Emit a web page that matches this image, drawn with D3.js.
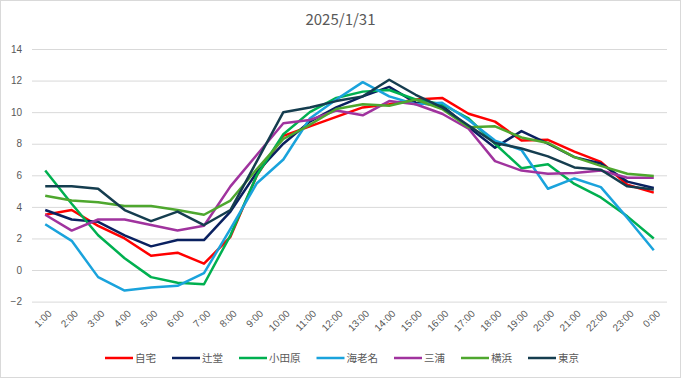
<!DOCTYPE html>
<html>
<head>
<meta charset="utf-8">
<script src="https://cdn.jsdelivr.net/npm/d3@7"></script>
<style>
  body { margin: 0; background: #fff; }
  svg { display: block; font-family: "Noto Sans CJK JP", "Noto Sans", sans-serif; }
</style>
</head>
<body>
<svg width="681" height="378"></svg>
<script>
// hours on the x axis
var hours = ['1:00','2:00','3:00','4:00','5:00','6:00','7:00','8:00','9:00','10:00','11:00','12:00',
  '13:00','14:00','15:00','16:00','17:00','18:00','19:00','20:00','21:00','22:00','23:00','0:00'];

var yTicks = [-2, 0, 2, 4, 6, 8, 10, 12, 14];

// temperatures
var jitaku   = [3.5, 3.8, 2.8, 2.0, 0.9, 1.1, 0.4, 2.1, 6.0, 8.5, 9.1, 9.7, 10.3, 10.5, 10.8, 10.9, 9.9, 9.4, 8.2, 8.25, 7.5, 6.85, 5.4, 4.9];
var tsujido  = [3.8, 3.2, 3.05, 2.2, 1.5, 1.9, 1.9, 3.7, 6.2, 8.0, 9.4, 10.3, 11.0, 11.6, 10.6, 10.4, 9.05, 7.75, 8.8, 8.0, 7.15, 6.75, 5.6, 5.2];
var odawara  = [6.3, 4.2, 2.2, 0.75, -0.45, -0.8, -0.9, 2.2, 6.0, 8.6, 10.0, 10.9, 11.3, 11.4, 10.8, 10.5, 9.6, 8.0, 6.45, 6.7, 5.45, 4.6, 3.4, 2.0];
var ebina    = [2.9, 1.85, -0.45, -1.3, -1.1, -1.0, -0.2, 2.6, 5.5, 7.0, 9.6, 10.8, 11.9, 11.0, 10.5, 10.6, 9.5, 8.2, 7.6, 5.15, 5.8, 5.25, 3.3, 1.25];
var miura    = [3.5, 2.5, 3.2, 3.2, 2.85, 2.5, 2.8, 5.3, 7.3, 9.3, 9.5, 10.1, 9.8, 10.7, 10.5, 9.9, 8.95, 6.9, 6.3, 6.1, 6.15, 6.3, 5.85, 5.85];
var yokohama = [4.7, 4.4, 4.3, 4.05, 4.05, 3.8, 3.5, 4.4, 6.4, 8.3, 9.2, 10.2, 10.5, 10.4, 10.8, 10.2, 9.05, 9.1, 8.4, 8.05, 7.15, 6.6, 6.1, 5.95];
var tokyo    = [5.3, 5.3, 5.15, 3.8, 3.1, 3.7, 2.85, 3.8, 6.9, 10.0, 10.3, 10.7, 11.0, 12.05, 11.1, 10.3, 9.15, 8.05, 7.7, 7.2, 6.5, 6.35, 5.3, 5.1];

var series = [
  {name: '自宅', values: jitaku, color: '#ff0000'},
  {name: '辻堂', values: tsujido, color: '#0a2160'},
  {name: '小田原', values: odawara, color: '#00b050'},
  {name: '海老名', values: ebina, color: '#1aa3dc'},
  {name: '三浦', values: miura, color: '#a0339e'},
  {name: '横浜', values: yokohama, color: '#4ea72e'},
  {name: '東京', values: tokyo, color: '#153d4f'}
];

var svg = d3.select('svg');
var textColor = '#595959';

// chart border
svg.append('rect')
    .attr('x', 0.5).attr('y', 0.5)
    .attr('width', 680).attr('height', 377)
    .attr('fill', '#fff')
    .attr('stroke', '#d9d9d9');

var plotLeft = 32, plotRight = 667, plotTop = 49, plotBottom = 301.6;

var xScale = d3.scalePoint()
    .domain(hours)
    .range([plotLeft, plotRight])
    .padding(0.5);

var yScale = d3.scaleLinear()
    .domain([-2, 14])
    .range([plotBottom, plotTop]);

// gridlines + y labels
var yAxis = d3.axisLeft(yScale)
    .tickValues(yTicks)
    .tickSize(-(plotRight - plotLeft))
    .tickPadding(10)
    .tickFormat(d3.format('d'));

var gy = svg.append('g')
    .attr('class', 'y axis')
    .attr('transform', 'translate(' + plotLeft + ',0)')
    .call(yAxis);
gy.select('.domain').remove();
gy.selectAll('line').attr('stroke', '#d9d9d9');
gy.selectAll('text')
    .attr('fill', textColor)
    .attr('font-size', 10);

// x labels
var xAxis = d3.axisBottom(xScale).tickSize(0);
var gx = svg.append('g')
    .attr('class', 'x axis')
    .attr('transform', 'translate(0,' + plotBottom + ')')
    .call(xAxis);
gx.select('.domain').remove();
gx.selectAll('text')
    .attr('fill', textColor)
    .attr('font-size', 10)
    .attr('text-anchor', 'end')
    .attr('dy', '0.35em')
    .attr('transform', 'translate(2,8) rotate(-45)');

// lines
var line = d3.line()
    .x(function(d, i) { return xScale(hours[i]); })
    .y(function(d) { return yScale(d); });

svg.append('g')
    .selectAll('path')
    .data(series)
    .enter()
    .append('path')
    .attr('d', function(d) { return line(d.values); })
    .attr('fill', 'none')
    .attr('stroke', function(d) { return d.color; })
    .attr('stroke-width', 2.5)
    .attr('stroke-linejoin', 'round');

// title
svg.append('text')
    .attr('x', 340.5)
    .attr('y', 25)
    .attr('text-anchor', 'middle')
    .attr('fill', textColor)
    .attr('font-size', 15)
    .text('2025/1/31');

// legend
var legend = svg.append('g').attr('class', 'legend');
var lx = 105, ly = 358;
series.forEach(function(s) {
    legend.append('line')
        .attr('x1', lx).attr('x2', lx + 28)
        .attr('y1', ly).attr('y2', ly)
        .attr('stroke', s.color)
        .attr('stroke-width', 2.5);
    var t = legend.append('text')
        .attr('x', lx + 30)
        .attr('y', ly)
        .attr('dy', '0.35em')
        .attr('fill', textColor)
        .attr('font-size', 10.5)
        .text(s.name);
    lx = lx + 30 + t.node().getComputedTextLength() + 16;
});
</script>
</body>
</html>
